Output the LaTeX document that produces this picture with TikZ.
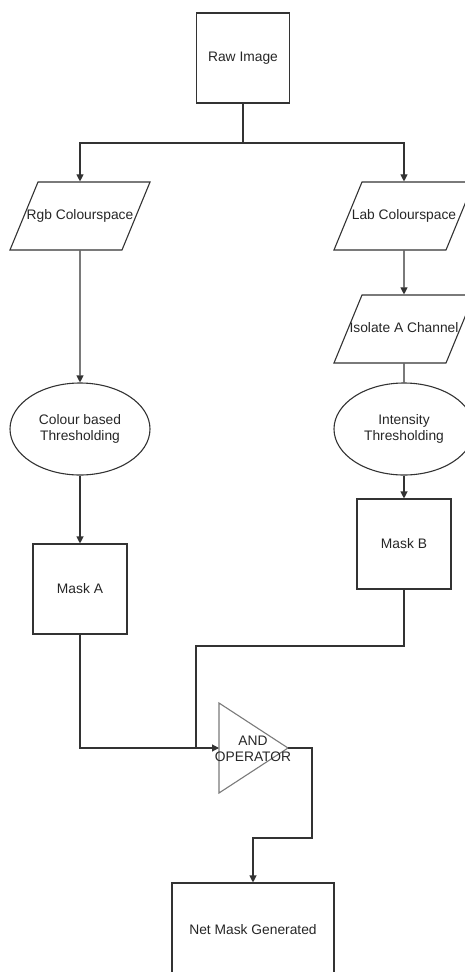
\documentclass[tikz,border=0pt]{standalone}
\usepackage{fontspec}
\setmainfont{Liberation Sans}
\usetikzlibrary{shapes.geometric,arrows.meta}
\definecolor{linegray}{HTML}{333333}
\definecolor{trigray}{HTML}{7A7A7A}
\newcommand{\paralabel}[1]{\makebox[84pt]{#1}}
\tikzset{
	box/.style={draw=linegray, line width=1.1pt, rectangle, inner sep=0pt},
	para/.style={draw=linegray, line width=1.1pt, trapezium, trapezium left angle=67.6, trapezium right angle=112.4, text height=10pt, text depth=3pt, inner xsep=0pt, inner ysep=27.5pt},
	oval/.style={draw=linegray, line width=1.1pt, ellipse, minimum width=140pt, minimum height=92pt, inner sep=0pt, align=center},
	link/.style={draw=linegray, line width=1.1pt},
	flow/.style={link, -{Triangle[length=7pt,width=7pt]}}
}
\begin{document}
\begin{tikzpicture}[x=1pt, y=-1pt, font=\fontsize{13.8}{16}\selectfont, text=black!85]
		\useasboundingbox (0,0) rectangle (465,972);

		\node[box, minimum width=93pt, minimum height=90pt] (raw) at (243,58) {Raw Image};
		\coordinate (split) at (243,143);

		\node[para] (rgb) at (80,216) {\paralabel{Rgb Colourspace}};
		\node[para] (lab) at (404,216) {\paralabel{Lab Colourspace}};
		\node[para] (iso) at (404,329) {\paralabel{Isolate A Channel}};

		\node[oval] (cbt) at (80,429) {Colour based\\Thresholding};
		\node[oval] (ith) at (404,429) {Intensity\\Thresholding};

		\node[box, minimum width=94pt, minimum height=90pt] (maska) at (80,589) {Mask A};
		\node[box, minimum width=94pt, minimum height=90pt] (maskb) at (404,544) {Mask B};

		% AND gate drawn by hand
		\coordinate (andin) at (219,748);
		\coordinate (andout) at (288,748);
		\draw[trigray, line width=1.1pt, line join=miter] (219,703) -- (andout) -- (219,793) -- cycle;
		\node[align=center, inner sep=0pt] (andop) at (253,749) {AND\\OPERATOR};

		\coordinate (mbturn) at (196,646);
		\coordinate (mbjoin) at (196,748);
		\coordinate (outcorner) at (312,838);

		\node[box, minimum width=162pt, minimum height=94pt] (netmask) at (253,930) {Net Mask Generated};

		\draw[link] (raw) -- (split);
		\draw[flow] (split) -| (rgb);
		\draw[flow] (split) -| (lab);
		\draw[flow] (lab) -- (iso);
		\draw[flow] (rgb) -- (cbt);
		\draw[link] (iso) -- (ith);
		\draw[flow] (cbt) -- (maska);
		\draw[flow] (ith) -- (maskb);
		\draw[flow] (maska) |- (andin);
		\draw[link] (maskb) |- (mbturn) -- (mbjoin);
		\draw[flow] (andout) -| (outcorner) -| (netmask);

	\end{tikzpicture}
\end{document}
